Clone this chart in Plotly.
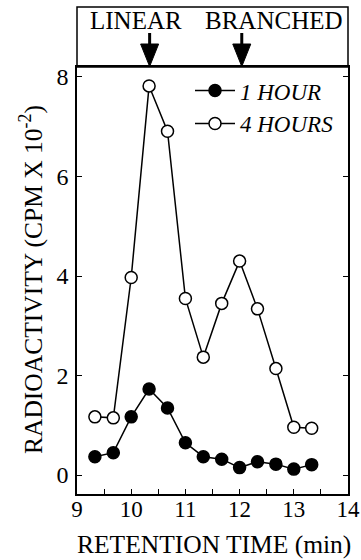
import plotly.graph_objects as go

# Data
retention_time = [9.33, 9.67, 10.0, 10.33, 10.67, 11.0, 11.33, 11.67, 12.0, 12.33, 12.67, 13.0, 13.33]
one_hour = [0.37, 0.45, 1.17, 1.73, 1.35, 0.65, 0.37, 0.32, 0.15, 0.27, 0.22, 0.12, 0.21]
four_hours = [1.17, 1.15, 3.97, 7.82, 6.91, 3.55, 2.37, 3.45, 4.30, 3.34, 2.14, 0.96, 0.94]
series_names = ["1 HOUR", "4 HOURS"]
x_ticks = [9, 10, 11, 12, 13, 14]
y_ticks = [0, 2, 4, 6, 8]
peak_labels = ["LINEAR", "BRANCHED"]
peak_positions = [10.34, 12.04]

FONT = "Liberation Serif, Times New Roman, serif"

# pixel helpers for the decorative top panel (plot area: x 77..348, y 67..494)
PLOT_LEFT, PLOT_RIGHT = 77, 348
PLOT_TOP, PLOT_BOTTOM = 67, 494
PLOT_W = PLOT_RIGHT - PLOT_LEFT
PLOT_H = PLOT_BOTTOM - PLOT_TOP
X_PER_UNIT = PLOT_W / 5.0


def py(pix):
    return (PLOT_BOTTOM - pix) / PLOT_H


def px(pix):
    return (pix - PLOT_LEFT) / PLOT_W


fig = go.Figure()
fig.add_trace(go.Scatter(
    x=retention_time, y=one_hour, mode="lines+markers", name=series_names[0],
    line=dict(color="black", width=1.5),
    marker=dict(symbol="circle", size=12, color="black", line=dict(color="black", width=1.5)),
))
fig.add_trace(go.Scatter(
    x=retention_time, y=four_hours, mode="lines+markers", name=series_names[1],
    line=dict(color="black", width=1.5),
    marker=dict(symbol="circle", size=12, color="white", line=dict(color="black", width=1.5)),
))

fig.update_layout(
    width=361, height=560,
    margin=dict(l=PLOT_LEFT, r=361 - PLOT_RIGHT, t=PLOT_TOP, b=560 - PLOT_BOTTOM),
    paper_bgcolor="white", plot_bgcolor="white",
    font=dict(family=FONT, size=24, color="black"),
    showlegend=True,
    legend=dict(
        x=px(190), y=0.995, xanchor="left", yanchor="top",
        bgcolor="rgba(0,0,0,0)", borderwidth=0,
        font=dict(family=FONT, size=23, color="black", style="italic"),
        tracegroupgap=0, itemwidth=40,
    ),
)
fig.update_xaxes(
    range=[9, 14], tickvals=x_ticks, ticks="inside", ticklen=5, tickwidth=1.2,
    tickcolor="black", showline=True, linecolor="black", linewidth=1.5, mirror=True,
    showgrid=False, zeroline=False, automargin=False, ticklabeloverflow="allow",
    minor=dict(dtick=0.5, ticks="inside", ticklen=5, tickwidth=1.2, tickcolor="black"),
    tickfont=dict(size=23), ticklabelstandoff=-6,
)
fig.update_yaxes(
    range=[-0.38, 8.2], tickvals=y_ticks, ticks="inside", ticklen=5, tickwidth=1.2,
    tickcolor="black", showline=True, linecolor="black", linewidth=1.5, mirror="ticks",
    showgrid=False, zeroline=False, automargin=False, ticklabeloverflow="allow",
    tickfont=dict(size=24), ticklabelstandoff=2,
)

# Top box with peak labels and arrows
fig.add_shape(type="rect", xref="paper", yref="paper", x0=0, x1=1, y0=1, y1=py(7),
              line=dict(color="black", width=1.5), fillcolor="rgba(0,0,0,0)")
half_w = 9 / X_PER_UNIT
for xpos in peak_positions:
    fig.add_shape(type="line", xref="x", yref="paper", x0=xpos, x1=xpos,
                  y0=py(33), y1=py(45), line=dict(color="black", width=3))
    fig.add_shape(type="path", xref="x", yref="paper",
                  path=f"M {xpos - half_w} {py(44)} L {xpos + half_w} {py(44)} L {xpos} {py(66.5)} Z",
                  fillcolor="black", line=dict(color="black", width=1))

label_centers_px = [135.5, 273.5]
for label, cx in zip(peak_labels, label_centers_px):
    fig.add_annotation(x=px(cx), xref="paper", y=py(20), yref="paper",
                       text=label, showarrow=False, font=dict(size=25),
                       xanchor="center", yanchor="middle")

# Axis titles
fig.add_annotation(x=px(213.5), xref="paper", y=py(544), yref="paper",
                   text="RETENTION TIME (min)", showarrow=False, font=dict(size=25.5),
                   xanchor="center", yanchor="middle")
fig.add_annotation(x=px(31), xref="paper", y=py(280), yref="paper",
                   text="RADIOACTIVITY (CPM X 10<sup>-2</sup>)", showarrow=False,
                   font=dict(size=25.5), textangle=-90, xanchor="center", yanchor="middle")

fig.write_html("out.html")
